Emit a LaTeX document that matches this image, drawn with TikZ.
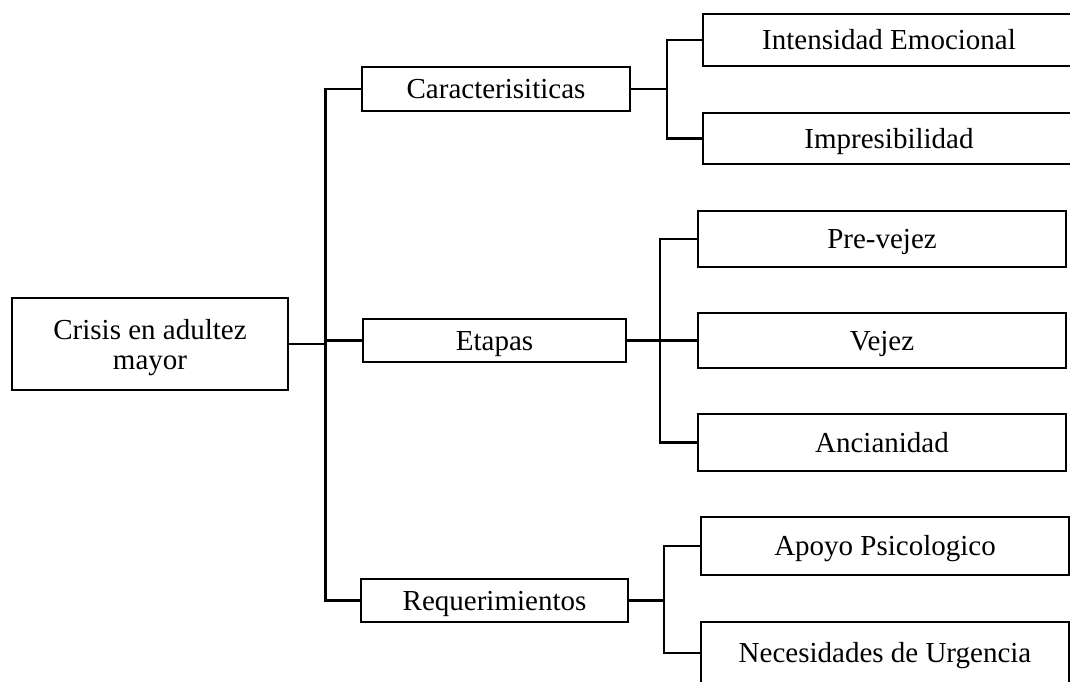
\documentclass[tikz,border=0pt]{standalone}
\usepackage{fontspec}
\setmainfont{Liberation Serif}
\begin{document}
\begin{tikzpicture}[x=1pt,y=-1pt,
  box/.style={draw,line width=2.2pt,inner sep=0pt,anchor=center,
    font=\fontsize{29}{29}\selectfont,text height=26pt,text depth=7pt},
  conn/.style={line width=2.2pt}]
\useasboundingbox (0,0) rectangle (1070,681);
\clip (0,0) rectangle (1070,681);
% root
\node[box,minimum width=276pt,minimum height=92pt,align=center,text height=,text depth=0pt,
  font=\fontsize{29}{30}\selectfont] (root) at (150,344) {Crisis en adultez\\mayor};
% level 1
\node[box,minimum width=268pt,minimum height=44pt] (car) at (496,89) {Caracterisiticas};
\node[box,minimum width=263pt,minimum height=43pt] (eta) at (494.5,340.5) {Etapas};
\node[box,minimum width=267pt,minimum height=43pt] (req) at (494.5,600.5) {Requerimientos};
% level 2
\node[box,minimum width=372pt,minimum height=52pt] (int) at (889,40) {Intensidad Emocional};
\node[box,minimum width=372pt,minimum height=51pt] (imp) at (889,138.5) {Impresibilidad};
\node[box,minimum width=368pt,minimum height=56pt] (pre) at (882,239) {Pre-vejez};
\node[box,minimum width=368pt,minimum height=55pt] (vej) at (882,340.5) {Vejez};
\node[box,minimum width=368pt,minimum height=57pt] (anc) at (882,442.5) {Ancianidad};
\node[box,minimum width=368pt,minimum height=58pt] (apo) at (885,546) {Apoyo Psicologico};
\node[box,minimum width=368pt,minimum height=62pt] (nec) at (885,653) {Necesidades de Urgencia};
% spine coordinates
\coordinate (sp) at (325.5,0);
\coordinate (c1) at (667,0);
\coordinate (r1) at (664,0);
% main spine
\draw[conn] (car.west) -- (car.west -| sp) |- (req.west);
\draw[conn] (eta.west) -- (eta.west -| sp);
\draw[conn] (root.east) -- (root.east -| sp);
% caracteristicas bracket
\draw[conn] (int.west) -- (int.west -| c1) |- (imp.west);
\draw[conn] (car.east) -- (car.east -| c1);
% etapas bracket
\draw[conn] (pre.west) -- ++(-37,0) |- (anc.west);
\draw[conn] (eta.east) -- (vej.west);
% requerimientos bracket
\draw[conn] (apo.west) -- (apo.west -| r1) |- (nec.west);
\draw[conn] (req.east) -- (req.east -| r1);
\end{tikzpicture}
\end{document}
